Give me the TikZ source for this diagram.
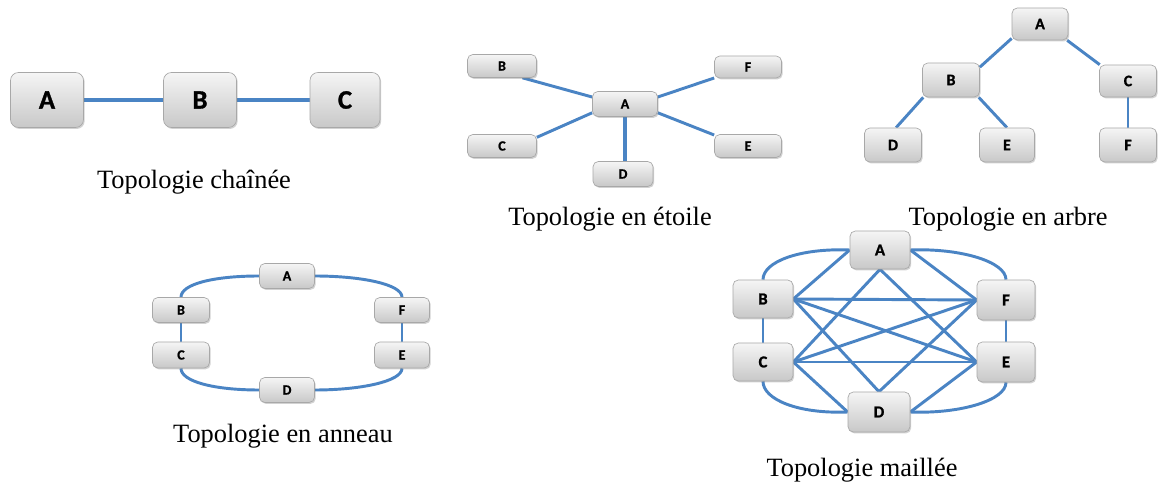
\documentclass[tikz,border=0pt]{standalone}
\usepackage{fontspec}
\setmainfont{Liberation Serif}
\newfontfamily\boxfont{Carlito}[BoldFeatures={FakeBold=1.2}]
\usetikzlibrary{shadows}
\definecolor{linkblue}{RGB}{74,132,196}
\definecolor{boxtop}{RGB}{245,245,245}
\definecolor{boxbot}{RGB}{200,200,200}
\definecolor{boxedge}{RGB}{168,168,168}
\pgfdeclarelayer{paper}
\pgfdeclarelayer{wires}
\pgfsetlayers{paper,wires,main}
\tikzset{
  hostbox/.style={rectangle, rounded corners=4pt, draw=boxedge, line width=0.5pt,
    top color=boxtop, bottom color=boxbot, inner sep=0pt,
    drop shadow={shadow xshift=0.9pt, shadow yshift=-1.1pt, opacity=0.35}},
  sz/.style 2 args={minimum width=#1*0.75pt, minimum height=#2*0.75pt},
  letter/.style={font=\boxfont\bfseries\fontsize{#1}{#1}\selectfont},
  link/.style={draw=linkblue, line width=2.2pt},
  caption/.style={anchor=base, font=\fontsize{19.8}{22}\selectfont},
}
\begin{document}
\begin{tikzpicture}[x=0.75pt, y=-0.75pt]
\begin{pgfonlayer}{paper}
  \fill[white] (0,0) rectangle (1158,484);
\end{pgfonlayer}
\path[use as bounding box] (0,0) rectangle (1158,484);

% ---- chain (bus) ----
\begin{scope}[every node/.append style={hostbox, letter=20, rounded corners=6pt}]
  \node[sz={73}{55}] (cA) at (47,100) {A};
  \node[sz={73}{55}] (cB) at (200,100) {B};
  \node[sz={70}{55}] (cC) at (345,100) {C};
\end{scope}
\begin{pgfonlayer}{wires}
  \draw[link, line width=2.5pt] (cA.east) -- (cB.west);
  \draw[link, line width=2.5pt] (cB.east) -- (cC.west);
\end{pgfonlayer}
\node[caption] (capChain) at (194,189) {Topologie chaînée};

% ---- star ----
\begin{scope}[every node/.append style={hostbox, letter=10.5}]
  \node[sz={65}{25}] (sA) at (625,104) {A};
  \node[sz={69}{23}] (sB) at (502,66) {B};
  \node[sz={67}{22}] (sF) at (748,67) {F};
  \node[sz={69}{23}] (sC) at (502,146) {C};
  \node[sz={67}{23}] (sE) at (748,146) {E};
  \node[sz={60}{25}] (sD) at (623,174) {D};
\end{scope}
\begin{pgfonlayer}{wires}
  \draw[link] (sB.-30) -- (sA.168);
  \draw[link] (sF.198) -- (sA.12);
  \draw[link] (sC.14) -- (sA.195);
  \draw[link] (sE.162) -- (sA.-15);
  \draw[link, line width=2.8pt] (sA.south) -- (sA.south |- sD.north);
\end{pgfonlayer}
\node[caption] (capStar) at (610,226) {Topologie en étoile};

% ---- tree ----
\begin{scope}[every node/.append style={hostbox, letter=12}]
  \node[sz={56}{32}] (tA) at (1040,24) {A};
  \node[sz={57}{34}] (tB) at (951,80) {B};
  \node[sz={57}{32}] (tC) at (1128,81) {C};
  \node[sz={57}{34}] (tD) at (893,145) {D};
  \node[sz={55}{34}] (tE) at (1007,145) {E};
  \node[sz={57}{34}] (tF) at (1128,145) {F};
\end{scope}
\begin{pgfonlayer}{wires}
  \draw[link] (tA.207) -- (tB.24);
  \draw[link] (tA.-31) -- (tC.150);
  \draw[link] (tB.-148) -- (tD.80);
  \draw[link] (tB.-32) -- (tE.north);
  \draw[link] (tC.south) -- (tF.north);
\end{pgfonlayer}
\node[caption] (capTree) at (1008,226) {Topologie en arbre};

% ---- ring ----
\begin{scope}[every node/.append style={hostbox, letter=10.5}]
  \node[sz={55}{25}] (rA) at (287,276) {A};
  \node[sz={57}{25}] (rB) at (181,310) {B};
  \node[sz={55}{25}] (rF) at (402,310) {F};
  \node[sz={57}{26}] (rC) at (181,355) {C};
  \node[sz={55}{26}] (rE) at (402,355) {E};
  \node[sz={55}{25}] (rD) at (287,390) {D};
\end{scope}
\begin{pgfonlayer}{wires}
  \draw[link] (rA.west) .. controls +(-46,0) and +(0,-13) .. (rB.north);
  \draw[link] (rA.east) .. controls +(46,0) and +(0,-13) .. (rF.north);
  \draw[link] (rB.south) -- (rC.north);
  \draw[link] (rF.south) -- (rE.north);
  \draw[link] (rC.south) .. controls +(0,13) and +(-46,0) .. (rD.west);
  \draw[link] (rE.south) .. controls +(0,13) and +(46,0) .. (rD.east);
\end{pgfonlayer}
\node[caption] (capRing) at (283,443) {Topologie en anneau};

% ---- mesh ----
\begin{scope}[every node/.append style={hostbox, letter=12.5}]
  \node[sz={60}{38}] (mA) at (880,250) {A};
  \node[sz={60}{38}] (mB) at (763,299) {B};
  \node[sz={58}{40}] (mF) at (1006,300) {F};
  \node[sz={60}{38}] (mC) at (763,362) {C};
  \node[sz={58}{40}] (mE) at (1006,362) {E};
  \node[sz={62}{40}] (mD) at (879,412) {D};
\end{scope}
\begin{pgfonlayer}{wires}
  \draw[link] (mA.west) .. controls +(-50,-2) and +(0,-18) .. (mB.north);
  \draw[link] (mA.east) .. controls +(50,-2) and +(0,-18) .. (mF.north);
  \draw[link] (mC.south) .. controls +(0,18) and +(-50,2) .. (mD.west);
  \draw[link] (mE.south) .. controls +(0,18) and +(50,2) .. (mD.east);
  \draw[link] (mB.south) -- (mC.north);
  \draw[link] (mF.south) -- (mE.north);
  \draw[link] (mA.west) -- (mB.east);
  \draw[link] (mA.east) -- (mF.west);
  \draw[link] (mA.south) -- (mC.east);
  \draw[link] (mA.south) -- (mE.west);
  \draw[link] (mB.east) -- (mF.west);
  \draw[link] (mB.east) -- (mE.west);
  \draw[link] (mB.east) -- (mD.north);
  \draw[link] (mC.east) -- (mF.west);
  \draw[link] (mC.east) -- (mE.west);
  \draw[link] (mC.east) -- (mD.west);
  \draw[link] (mD.north) -- (mF.west);
  \draw[link] (mD.east) -- (mE.west);
\end{pgfonlayer}
\node[caption] (capMesh) at (862,477) {Topologie maillée};
\end{tikzpicture}
\end{document}
